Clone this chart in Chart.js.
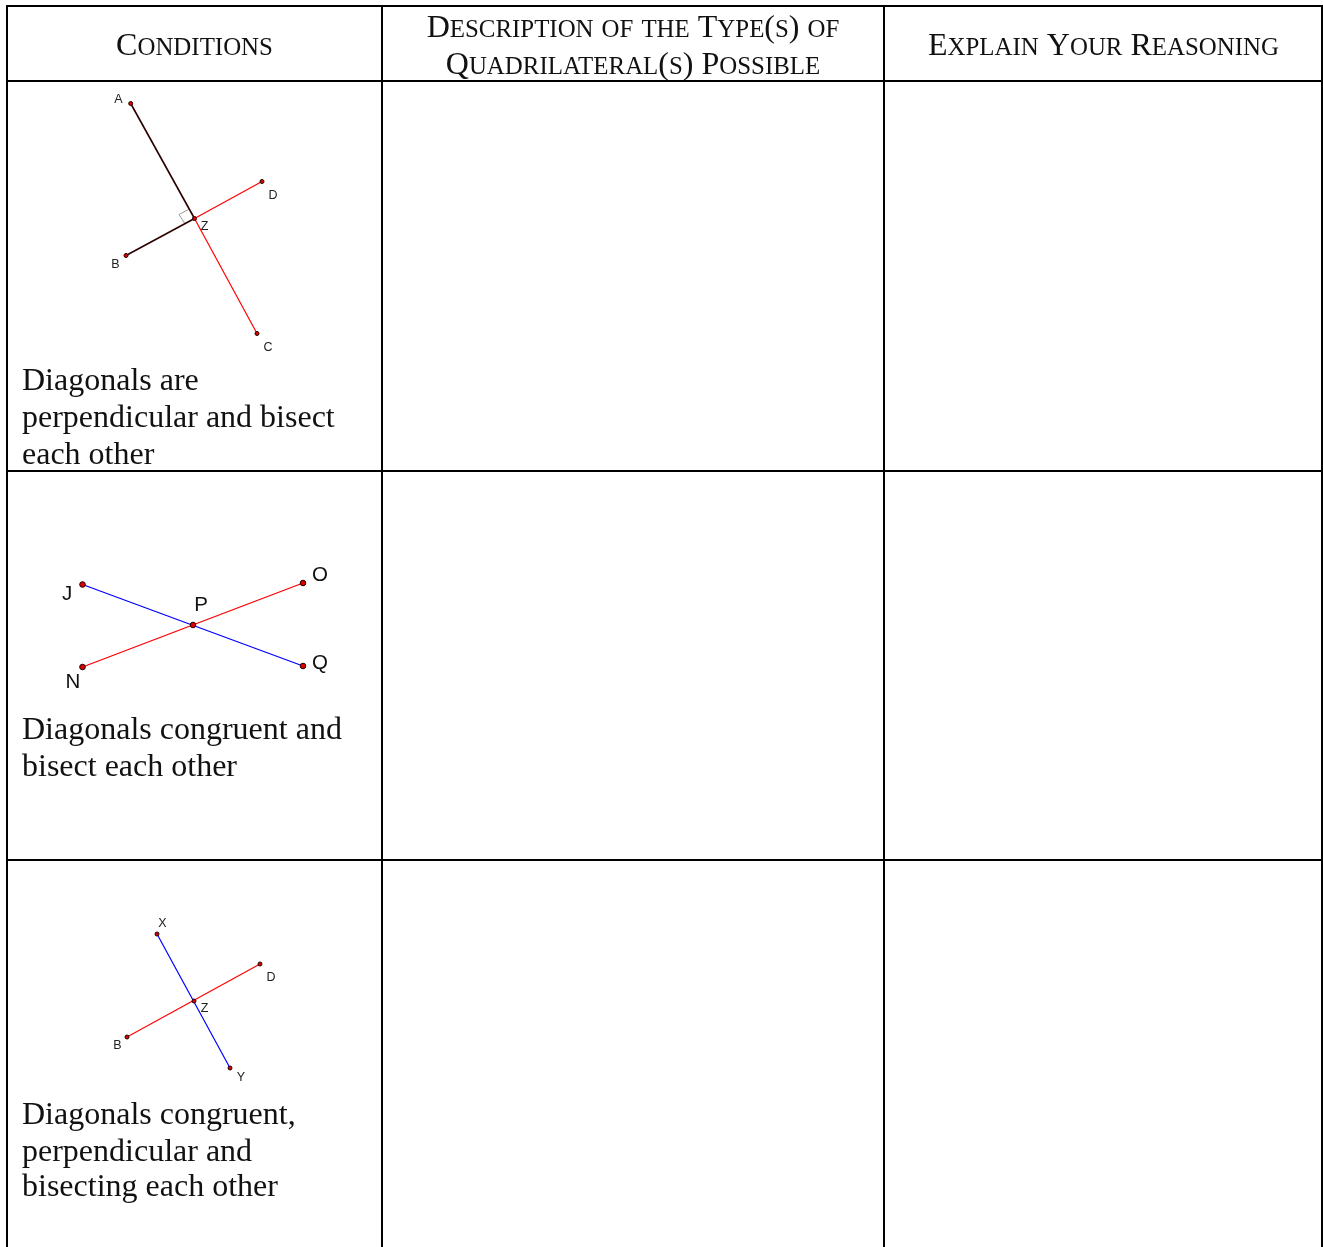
<!DOCTYPE html>
<html><head><meta charset="utf-8">
<style>html,body{margin:0;padding:0;background:#fff;overflow:hidden}canvas{display:block}</style>
<script src="https://cdn.jsdelivr.net/npm/chart.js@4"></script></head>
<body><canvas id="c" width="1323" height="1247"></canvas>
<script>
// Table rules (in page units)
const columnRules = [7, 382, 884, 1322];
const rowRules = [6, 81, 471, 860];
const tableBottom = 1247;

// Figure 1
const fig1Points = [{x:130.7,y:103.5},{x:262,y:181.5},{x:194.5,y:218.5},{x:126,y:255.5},{x:257,y:333.5}];
const fig1SegAZ = [{x:130.7,y:103.5},{x:194.5,y:218.5}];
const fig1SegZB = [{x:194.5,y:218.5},{x:126,y:255.5}];
const fig1SegDZ = [{x:262,y:181.5},{x:194.5,y:218.5}];
const fig1SegZC = [{x:194.5,y:218.5},{x:257,y:333.5}];
const fig1RightAngle = [{x:188.5,y:209.5},{x:179,y:214.5},{x:184.5,y:223}];
// Figure 2
const fig2Points = [{x:82.5,y:584.5},{x:303,y:583},{x:193,y:625},{x:82.5,y:667},{x:303,y:666}];
const fig2SegJQ = [{x:82.5,y:584.5},{x:303,y:666}];
const fig2SegNO = [{x:82.5,y:667},{x:303,y:583}];
// Figure 3
const fig3Points = [{x:157,y:934},{x:260,y:964},{x:194,y:1001},{x:127,y:1037},{x:230,y:1068}];
const fig3SegXY = [{x:157,y:934},{x:230,y:1068}];
const fig3SegBD = [{x:127,y:1037},{x:260,y:964}];

// Text
const headerLabels = [["Conditions",194.5,55],["Description of the Type(s) of",633,37],["Quadrilateral(s) Possible",633,74],["Explain Your Reasoning",1103.5,55]];
const bodyLabels = [["Diagonals are",22,390],["perpendicular and bisect",22,427],["each other",22,464],
 ["Diagonals congruent and",22,739],["bisect each other",22,776],
 ["Diagonals congruent,",22,1124],["perpendicular and",22,1161],["bisecting each other",22,1196]];
const smallPointLabels = [["A",118.5,103],["D",273,198.5],["Z",204.5,230],["B",115.5,268],["C",268,351],
 ["X",162.5,926.5],["D",271,980.5],["Z",204.5,1012],["B",117.5,1048.5],["Y",241,1081]];
const largePointLabels = [["J",67,600],["O",320,581],["P",201,611],["N",73,688],["Q",320,669]];

const ink = "#000", red = "#ff0000", blue = "#0000ff", darkSeg = "#2a0000";
const seg = (data,color,w)=>({data,showLine:true,borderColor:color,borderWidth:w,pointRadius:0,fill:false,tension:0});
const marks = (data,r)=>({data,showLine:false,pointRadius:r,pointBackgroundColor:"#dd0000",pointBorderColor:"#200000",pointBorderWidth:1});

const datasets = [
  marks(fig1Points,2), marks(fig2Points,2.8), marks(fig3Points,2),
  seg(fig1SegAZ,darkSeg,1.6), seg(fig1SegZB,darkSeg,1.6), seg(fig1SegDZ,red,1.2), seg(fig1SegZC,red,1.2),
  seg(fig1RightAngle,"#999999",1),
  seg(fig2SegJQ,blue,1.3), seg(fig2SegNO,red,1.3),
  seg(fig3SegXY,blue,1.2), seg(fig3SegBD,red,1.2),
];
columnRules.forEach(x=>datasets.push(seg([{x,y:rowRules[0]-1},{x,y:tableBottom}],ink,2)));
rowRules.forEach(y=>datasets.push(seg([{x:columnRules[0]-1,y},{x:columnRules[3]+1,y}],ink,2)));

const capFont='32px "Liberation Serif"', lowFont='24.9px "Liberation Serif"';
function runsOf(t){ // small capitals: lower-case letters become smaller capitals
  const runs=[];
  for(const ch of t){const low=/[a-z]/.test(ch);
    if(runs.length&&runs[runs.length-1].low===low)runs[runs.length-1].s+=low?ch.toUpperCase():ch;
    else runs.push({low,s:low?ch.toUpperCase():ch});}
  return runs;
}
function smallCaps(c,t,x,y){
  const runs=runsOf(t);let w=0;
  runs.forEach(r=>{c.font=r.low?lowFont:capFont;r.w=c.measureText(r.s).width;w+=r.w;});
  let px=x-w/2;c.textAlign="left";
  runs.forEach(r=>{c.font=r.low?lowFont:capFont;c.fillText(r.s,px,y);px+=r.w;});
}
const textPlugin = {id:"cellText",afterDatasetsDraw(ch){
  const c=ch.ctx,X=ch.scales.x,Y=ch.scales.y;
  const put=(list,font,align,color)=>{c.font=font;c.textAlign=align;c.textBaseline="alphabetic";c.fillStyle=color;
    list.forEach(([t,x,y])=>c.fillText(t,X.getPixelForValue(x),Y.getPixelForValue(y)));};
  c.save();
  c.textBaseline="alphabetic";c.fillStyle="#111";
  headerLabels.forEach(([t,x,y])=>smallCaps(c,t,X.getPixelForValue(x),Y.getPixelForValue(y)));
  put(bodyLabels,capFont,"left","#111");
  put(smallPointLabels,'12.5px "Liberation Sans"',"center","#222");
  put(largePointLabels,'20.5px "Liberation Sans"',"center","#111");
  c.restore();
}};

new Chart(document.getElementById("c"),{type:"scatter",data:{datasets},plugins:[textPlugin],options:{
  responsive:false,animation:false,devicePixelRatio:1,
  layout:{padding:0,autoPadding:false},
  plugins:{legend:{display:false},tooltip:{enabled:false},title:{display:false}},
  elements:{line:{borderCapStyle:"butt"}},
  scales:{x:{type:"linear",display:false,min:0,max:1323},y:{type:"linear",display:false,min:0,max:1247,reverse:true}}
}});
</script></body></html>
